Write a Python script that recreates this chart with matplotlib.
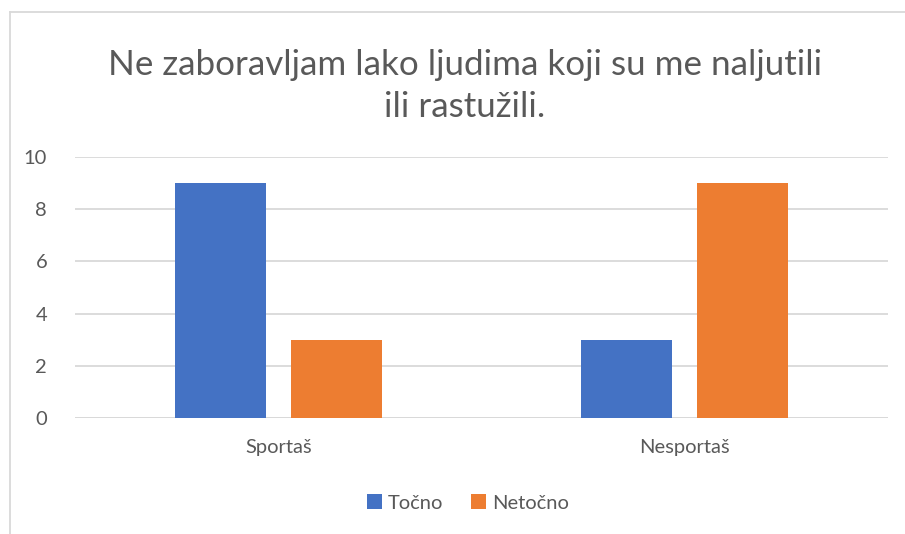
import matplotlib
matplotlib.use("Agg")
import matplotlib.pyplot as plt
from matplotlib.lines import Line2D
from matplotlib.patches import Patch
import numpy as np

categories = ["Sportaš", "Nesportaš"]
tocno = [9, 3]
netocno = [3, 9]
series_names = ["Točno", "Netočno"]

BLUE = "#4472C4"
ORANGE = "#ED7D31"
TXT = "#595959"
GRID = "#D9D9D9"

plt.rcParams['font.family'] = ['Lato', 'DejaVu Sans']

W, H = 905, 534
fig = plt.figure(figsize=(W/100, H/100), dpi=100)
fig.patch.set_facecolor("white")

# plot area in pixels: x 75..888, y 157..418
ax = fig.add_axes([75/W, 1-418/H, (888-75)/W, (418-157)/H])

x = np.arange(len(categories))
bw = 0.224
off = 0.143
ax.bar(x - off, tocno, bw, color=BLUE, zorder=3)
ax.bar(x + off, netocno, bw, color=ORANGE, zorder=3)

ax.set_xlim(-0.5, 1.5)
ax.set_ylim(0, 10)
ax.set_yticks(range(0, 11, 2))
ax.yaxis.grid(True, color=GRID, linewidth=1.3, zorder=0)
ax.set_xticks(x)
ax.set_xticklabels(categories)
for s in ax.spines.values():
    s.set_visible(False)
ax.tick_params(axis="both", length=0, colors=TXT, labelsize=14.5)
ax.tick_params(axis="x", pad=15)
ax.tick_params(axis="y", pad=20)
for lbl in ax.get_yticklabels():
    lbl.set_horizontalalignment("right")
ax.axhline(0, color=GRID, linewidth=1.3, zorder=2)

fig.text(465/W, 1-86/H, "Ne zaboravljam lako ljudima koji su me naljutili\nili rastužili.",
         ha="center", va="center", fontsize=25.2, color=TXT, linespacing=1.35)

handles = [Patch(facecolor=BLUE, label=series_names[0]),
           Patch(facecolor=ORANGE, label=series_names[1])]
leg = fig.legend(handles=handles, loc="center", bbox_to_anchor=(468/W, 1-503/H),
                 ncol=2, frameon=False, fontsize=14.5, handlelength=0.75, handleheight=0.75,
                 handletextpad=0.3, columnspacing=1.4)
for t in leg.get_texts():
    t.set_color(TXT)

# chart border (top and left visible)
fig.add_artist(Line2D([10/W, 1], [1-12/H, 1-12/H], color=GRID, linewidth=1.3))
fig.add_artist(Line2D([10/W, 10/W], [0, 1-12/H], color=GRID, linewidth=1.3))

fig.savefig("out.png", dpi=100, facecolor="white")
